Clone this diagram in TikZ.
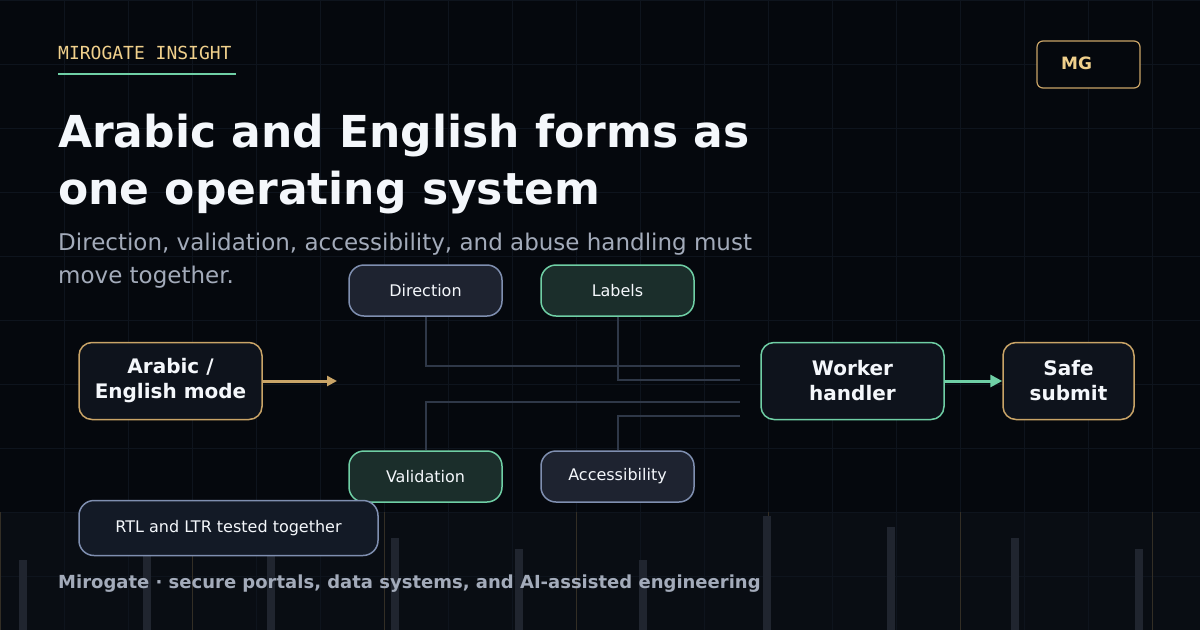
\documentclass[tikz,border=0pt]{standalone}
\usepackage{fontspec}
\setmainfont{DejaVu Sans}
\newfontfamily\monof{DejaVu Sans Mono}
\usetikzlibrary{arrows.meta}
\definecolor{bg}{HTML}{05080D}
\definecolor{bgb}{HTML}{090D13}
\definecolor{gridc}{HTML}{0E141D}
\definecolor{goldc}{HTML}{C9A467}
\definecolor{eyec}{HTML}{F0D08C}
\definecolor{tealc}{HTML}{6FCFA5}
\definecolor{slatec}{HTML}{7F8FB0}
\definecolor{wirec}{HTML}{2F3848}
\definecolor{subc}{HTML}{A3ABBA}
\definecolor{titlec}{HTML}{F4F7FB}
\definecolor{barc}{HTML}{20252F}
\definecolor{pillg}{HTML}{1E2330}
\definecolor{pillt}{HTML}{1B2E2B}
\definecolor{boxf}{HTML}{0E131C}
\definecolor{rtlf}{HTML}{131A26}
\tikzset{
 pill/.style={draw, line width=1.5pt, rounded corners=15pt, text=titlec, font=\fontsize{16}{19}\selectfont, minimum width=153pt, minimum height=51pt, inner sep=0pt},
 pillslate/.style={pill, draw=slatec, fill=pillg},
 pillteal/.style={pill, draw=tealc, fill=pillt},
 bigbox/.style={draw, line width=1.5pt, rounded corners=13pt, fill=boxf, text=titlec, font=\bfseries\fontsize{20}{25}\selectfont, align=center, minimum height=77pt, inner sep=0pt},
 wire/.style={draw=wirec, line width=2pt},
}
\begin{document}
\begin{tikzpicture}[x=1pt,y=-1pt]
\fill[bg] (0,0) rectangle (1200,630);
\useasboundingbox (0,0) rectangle (1200,630);
\fill[bgb] (0,512) rectangle (1200,630);
\foreach \x in {64,128,...,1152} \draw[gridc, line width=0.8pt] (\x,0) -- (\x,630);
\foreach \y in {0,64,...,576} \draw[gridc, line width=0.8pt] (0,\y) -- (1200,\y);
\foreach \x in {0,192,...,1152} \draw[goldc!22!bgb, line width=0.8pt] (\x,512) -- (\x,630);
\foreach \x/\t in {20/560,144/516,268/527,392/538,516/549,640/560,764/516,888/527,1012/538,1136/549}
  \fill[barc] (\x-4+3,\t) rectangle (\x+4+3,630);
% header
\node[anchor=base west, inner sep=0pt, text=eyec, font=\monof\fontsize{18}{20}\selectfont] (eyebrow) at (58,59) {MIROGATE INSIGHT};
\draw[tealc, line width=2pt] (58,74) -- (236,74);
\node[anchor=base west, inner sep=0pt, text=titlec, font=\bfseries\fontsize{44}{57}\selectfont] (t1) at (58,147) {Arabic and English forms as};
\node[anchor=base west, inner sep=0pt, text=titlec, font=\bfseries\fontsize{44}{57}\selectfont] (t2) at (58,204) {one operating system};
\node[anchor=base west, inner sep=0pt, text=subc, font=\fontsize{23}{33}\selectfont] (s1) at (58,250) {Direction, validation, accessibility, and abuse handling must};
\node[anchor=base west, inner sep=0pt, text=subc, font=\fontsize{23}{33}\selectfont] (s2) at (58,283) {move together.};
\node[draw=goldc, line width=1.2pt, rounded corners=6pt, fill=bg, minimum width=103pt, minimum height=47pt, inner sep=0pt] (mg) at (1088.5,64.5) {};
\node[anchor=west, text=eyec, font=\bfseries\fontsize{17}{20}\selectfont, inner sep=0pt] (mgt) at (1061,63) {MG};
% wires
\coordinate (j1) at (740,366); \coordinate (j2) at (740,380);
\coordinate (j3) at (740,402); \coordinate (j4) at (740,416);
\node[pillslate] (dir) at (425.5,290.5) {Direction};
\node[pillteal] (lab) at (617.5,290.5) {Labels};
\node[pillteal] (val) at (425.5,476.5) {Validation};
\node[pillslate] (acc) at (617.5,476.5) {Accessibility};
\draw[wire] (dir.south) |- (j1);
\draw[wire] (lab.south) |- (j2);
\draw[wire] (val.north) |- (j3);
\draw[wire] (acc.north) |- (j4);
\node[bigbox, draw=goldc, minimum width=183pt] (mode) at (170.5,381) {Arabic /\\English mode};
\node[bigbox, draw=tealc, minimum width=183pt] (work) at (852.5,381) {Worker\\handler};
\node[bigbox, draw=goldc, minimum width=131pt] (safe) at (1068.5,381) {Safe\\submit};
\coordinate (mend) at (337,381);
\draw[goldc, line width=3pt, -{Triangle[length=10pt,width=10pt]}] (mode.east) -- (mend);
\draw[tealc, line width=3pt, -{Triangle[length=12pt,width=12pt]}] (work.east) -- (safe.west);
\node[draw=slatec, line width=1.5pt, fill=rtlf, rounded corners=15pt, text=titlec, font=\fontsize{16}{19}\selectfont, minimum width=299pt, minimum height=55pt, inner sep=0pt] (rtl) at (228.5,528) {RTL and LTR tested together};
\node[anchor=base west, inner sep=0pt, text=subc, font=\bfseries\fontsize{18}{21}\selectfont] (foot) at (58,588) {Mirogate · secure portals, data systems, and AI-assisted engineering};
\end{tikzpicture}
\end{document}
